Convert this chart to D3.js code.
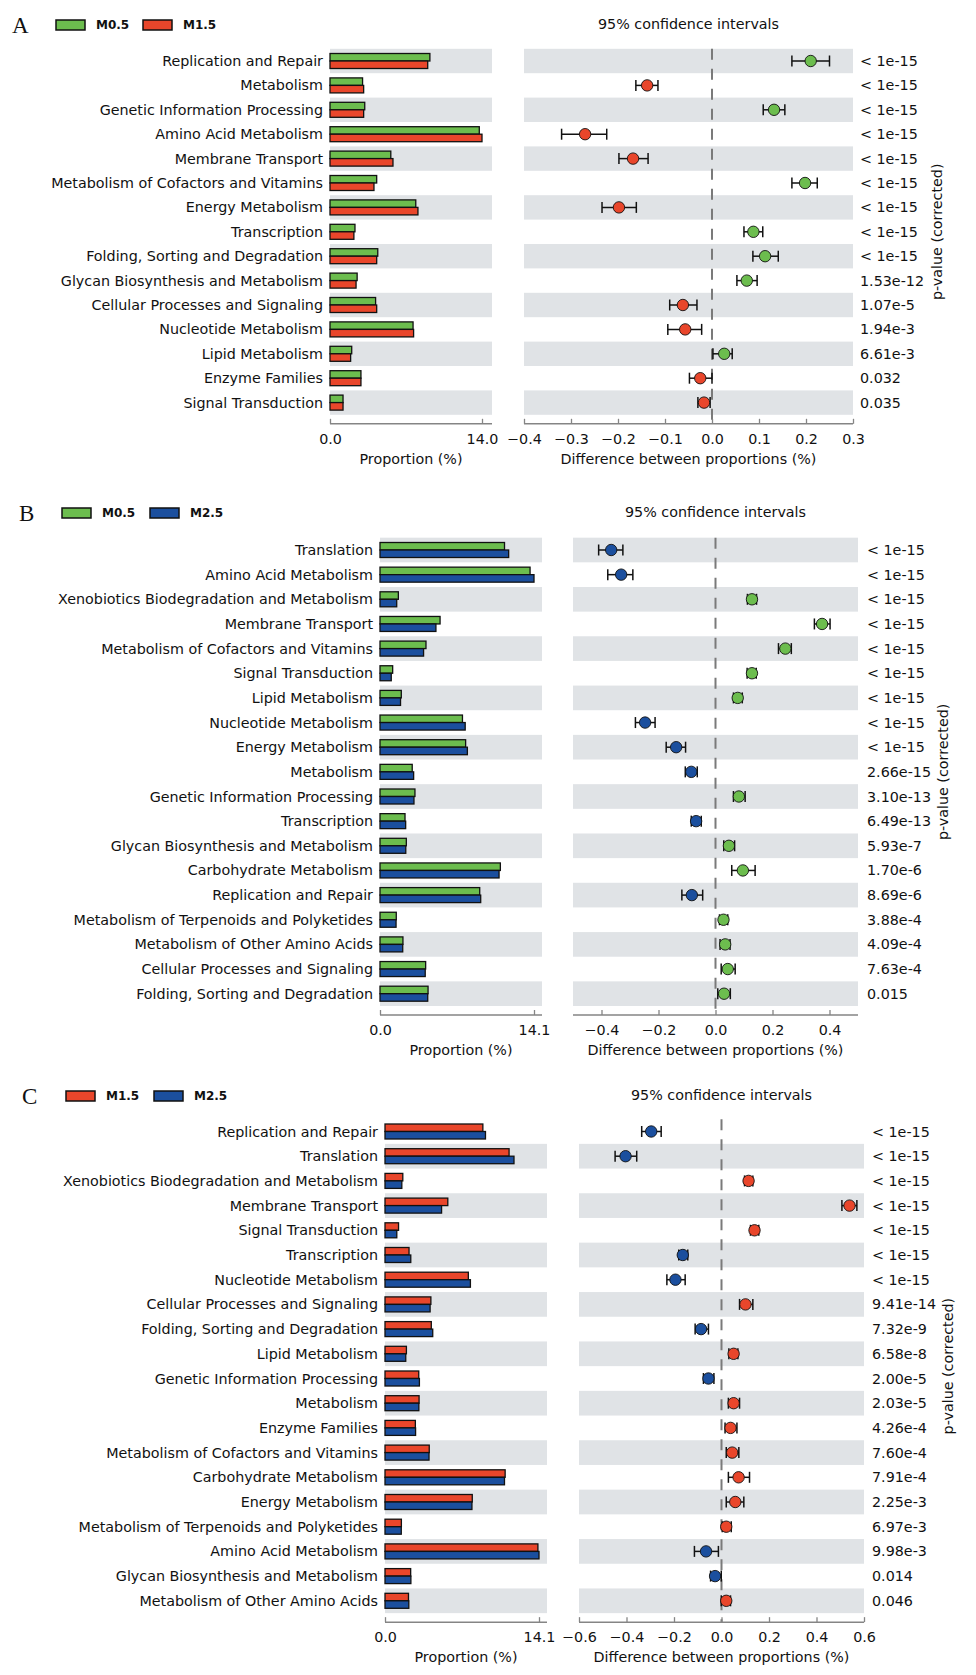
<!DOCTYPE html>
<html>
<head>
<meta charset="utf-8">
<script src="https://cdn.jsdelivr.net/npm/d3@7"></script>
<style>
  body { margin: 0; background: #fff; }
  text { font-family: "DejaVu Sans", sans-serif; fill: #111; }
</style>
</head>
<body>
<svg id="chart" width="976" height="1675"></svg>
<script>
// ---- data ----

// Panel A: M0.5 vs M1.5
var groupsA = ["M0.5", "M1.5"];
var catsA = ["Replication and Repair", "Metabolism", "Genetic Information Processing", "Amino Acid Metabolism",
    "Membrane Transport", "Metabolism of Cofactors and Vitamins", "Energy Metabolism", "Transcription",
    "Folding, Sorting and Degradation", "Glycan Biosynthesis and Metabolism", "Cellular Processes and Signaling",
    "Nucleotide Metabolism", "Lipid Metabolism", "Enzyme Families", "Signal Transduction"];
var propA1 = [9.2, 3.0, 3.2, 13.75, 5.6, 4.3, 7.9, 2.3, 4.4, 2.5, 4.2, 7.65, 2.0, 2.85, 1.2];
var propA2 = [9.0, 3.1, 3.1, 14.0, 5.8, 4.05, 8.1, 2.2, 4.3, 2.4, 4.3, 7.7, 1.9, 2.85, 1.2];
var diffA = [0.21, -0.138, 0.132, -0.27, -0.168, 0.198, -0.198, 0.088, 0.113, 0.074, -0.062, -0.057, 0.026, -0.025, -0.017];
var lowA = [0.17, -0.162, 0.109, -0.32, -0.198, 0.17, -0.234, 0.068, 0.087, 0.053, -0.09, -0.094, 0.002, -0.048, -0.03];
var highA = [0.25, -0.115, 0.155, -0.224, -0.136, 0.224, -0.161, 0.108, 0.141, 0.096, -0.032, -0.022, 0.043, 0.0, -0.004];
var pvalA = ["< 1e-15", "< 1e-15", "< 1e-15", "< 1e-15", "< 1e-15", "< 1e-15", "< 1e-15", "< 1e-15", "< 1e-15",
    "1.53e-12", "1.07e-5", "1.94e-3", "6.61e-3", "0.032", "0.035"];
var barTicksA = [0, 14.0];
var ciTicksA = [-0.4, -0.3, -0.2, -0.1, 0, 0.1, 0.2, 0.3];

// Panel B: M0.5 vs M2.5
var groupsB = ["M0.5", "M2.5"];
var catsB = ["Translation", "Amino Acid Metabolism", "Xenobiotics Biodegradation and Metabolism", "Membrane Transport",
    "Metabolism of Cofactors and Vitamins", "Signal Transduction", "Lipid Metabolism", "Nucleotide Metabolism",
    "Energy Metabolism", "Metabolism", "Genetic Information Processing", "Transcription",
    "Glycan Biosynthesis and Metabolism", "Carbohydrate Metabolism", "Replication and Repair",
    "Metabolism of Terpenoids and Polyketides", "Metabolism of Other Amino Acids", "Cellular Processes and Signaling",
    "Folding, Sorting and Degradation"];
var propB1 = [11.4, 13.74, 1.68, 5.5, 4.21, 1.16, 1.95, 7.55, 7.84, 2.95, 3.2, 2.29, 2.41, 11.02, 9.13, 1.49, 2.1, 4.18, 4.4];
var propB2 = [11.78, 14.1, 1.53, 5.12, 3.99, 1.03, 1.88, 7.8, 8.0, 3.08, 3.11, 2.35, 2.36, 10.9, 9.22, 1.47, 2.08, 4.14, 4.37];
var diffB = [-0.366, -0.331, 0.128, 0.374, 0.245, 0.128, 0.078, -0.247, -0.138, -0.085, 0.082, -0.068, 0.047, 0.096, -0.083, 0.028, 0.034, 0.043, 0.03];
var lowB = [-0.41, -0.378, 0.112, 0.347, 0.221, 0.111, 0.063, -0.281, -0.173, -0.106, 0.063, -0.085, 0.029, 0.057, -0.118, 0.014, 0.016, 0.02, 0.008];
var highB = [-0.325, -0.29, 0.144, 0.402, 0.266, 0.143, 0.094, -0.212, -0.105, -0.064, 0.104, -0.05, 0.067, 0.139, -0.045, 0.043, 0.051, 0.069, 0.052];
var pvalB = ["< 1e-15", "< 1e-15", "< 1e-15", "< 1e-15", "< 1e-15", "< 1e-15", "< 1e-15", "< 1e-15", "< 1e-15",
    "2.66e-15", "3.10e-13", "6.49e-13", "5.93e-7", "1.70e-6", "8.69e-6", "3.88e-4", "4.09e-4", "7.63e-4", "0.015"];
var barTicksB = [0, 14.1];
var ciTicksB = [-0.4, -0.2, 0, 0.2, 0.4];

// Panel C: M1.5 vs M2.5
var groupsC = ["M1.5", "M2.5"];
var catsC = ["Replication and Repair", "Translation", "Xenobiotics Biodegradation and Metabolism", "Membrane Transport",
    "Signal Transduction", "Transcription", "Nucleotide Metabolism", "Cellular Processes and Signaling",
    "Folding, Sorting and Degradation", "Lipid Metabolism", "Genetic Information Processing", "Metabolism",
    "Enzyme Families", "Metabolism of Cofactors and Vitamins", "Carbohydrate Metabolism", "Energy Metabolism",
    "Metabolism of Terpenoids and Polyketides", "Amino Acid Metabolism", "Glycan Biosynthesis and Metabolism",
    "Metabolism of Other Amino Acids"];
var propC1 = [8.96, 11.36, 1.63, 5.75, 1.24, 2.2, 7.63, 4.2, 4.24, 1.96, 3.09, 3.12, 2.78, 4.05, 11.0, 7.99, 1.5, 14.0, 2.35, 2.15];
var propC2 = [9.2, 11.81, 1.54, 5.18, 1.08, 2.36, 7.82, 4.13, 4.37, 1.9, 3.15, 3.1, 2.8, 4.03, 10.94, 7.96, 1.49, 14.1, 2.37, 2.18];
var diffC = [-0.296, -0.404, 0.114, 0.539, 0.139, -0.163, -0.194, 0.101, -0.086, 0.051, -0.055, 0.051, 0.038, 0.045, 0.072, 0.058, 0.02, -0.065, -0.027, 0.02];
var lowC = [-0.336, -0.448, 0.097, 0.507, 0.122, -0.18, -0.23, 0.076, -0.111, 0.031, -0.076, 0.029, 0.015, 0.02, 0.029, 0.02, 0.003, -0.114, -0.046, -0.001];
var highC = [-0.254, -0.357, 0.132, 0.57, 0.157, -0.142, -0.153, 0.132, -0.055, 0.069, -0.032, 0.076, 0.065, 0.073, 0.118, 0.094, 0.041, -0.013, -0.001, 0.038];
var pvalC = ["< 1e-15", "< 1e-15", "< 1e-15", "< 1e-15", "< 1e-15", "< 1e-15", "< 1e-15",
    "9.41e-14", "7.32e-9", "6.58e-8", "2.00e-5", "2.03e-5", "4.26e-4", "7.60e-4", "7.91e-4", "2.25e-3",
    "6.97e-3", "9.98e-3", "0.014", "0.046"];
var barTicksC = [0, 14.1];
var ciTicksC = [-0.6, -0.4, -0.2, 0, 0.2, 0.4, 0.6];

// ---- styling / layout ----
var groupColor = {"M0.5": "#6cbd4e", "M1.5": "#e9462b", "M2.5": "#1b4f9e"};
var bandFill = "#e0e3e6";
var axisColor = "#858585";
var fontSize = "14.3px";

var svg = d3.select("#chart");

function drawPanel(L, groups, cats, v1, v2, diff, lo, hi, pv, barTicks, ciTicks) {
    var n = cats.length,
        g = svg.append("g"),
        c1 = groupColor[groups[0]],
        c2 = groupColor[groups[1]];

    var y = d3.scaleBand().domain(d3.range(n))
        .range([L.rowY0 - L.step / 2, L.rowY0 + (n - 0.5) * L.step]);
    var xBar = d3.scaleLinear().domain([0, barTicks[1]]).range([L.barX0, L.barX1]);
    var xCi = d3.scaleLinear().domain(L.ciDomain).range([L.ciX0, L.ciX1]);
    var yc = function (i) { return y(i) + y.bandwidth() / 2; };
    var axisY = y.range()[1] + 9;

    // panel letter and legend
    g.append("text").attr("x", L.letterX).attr("y", L.topY).attr("dy", "0.35em")
        .style("font-family", "'Liberation Serif', serif").style("font-size", "23px").text(L.letter);
    groups.forEach(function (name, k) {
        g.append("rect").attr("x", L.legendX[k]).attr("y", L.topY - 5).attr("width", 29).attr("height", 10)
            .attr("fill", groupColor[name]).attr("stroke", "#111").attr("stroke-width", 1.5);
        g.append("text").attr("x", L.legendX[k] + 40).attr("y", L.topY).attr("dy", "0.35em")
            .style("font-size", "12px").style("font-weight", "bold").text(name);
    });
    g.append("text").attr("x", (L.ciX0 + L.ciX1) / 2).attr("y", L.topY - 1).attr("dy", "0.35em")
        .attr("text-anchor", "middle").style("font-size", fontSize).text("95% confidence intervals");

    // alternating row bands (bottom row shaded)
    var shaded = d3.range(n).filter(function (i) { return (n - 1 - i) % 2 === 0; });
    g.selectAll(".bandL").data(shaded).join("rect")
        .attr("x", L.barX0).attr("width", L.barEnd - L.barX0)
        .attr("y", function (i) { return y(i); }).attr("height", y.bandwidth()).attr("fill", bandFill);
    g.selectAll(".bandR").data(shaded).join("rect")
        .attr("x", L.ciX0).attr("width", L.ciX1 - L.ciX0)
        .attr("y", function (i) { return y(i); }).attr("height", y.bandwidth()).attr("fill", bandFill);

    // category labels
    g.selectAll(".cat").data(cats).join("text")
        .attr("x", L.barX0 - 7).attr("y", function (d, i) { return yc(i); }).attr("dy", "0.35em")
        .attr("text-anchor", "end").style("font-size", fontSize).text(function (d) { return d; });

    // paired bars
    var bh = 7.5;
    g.selectAll(".bar1").data(v1).join("rect")
        .attr("x", xBar(0)).attr("y", function (d, i) { return yc(i) - bh; })
        .attr("width", function (d) { return xBar(d) - xBar(0); }).attr("height", bh)
        .attr("fill", c1).attr("stroke", "#111").attr("stroke-width", 1.3);
    g.selectAll(".bar2").data(v2).join("rect")
        .attr("x", xBar(0)).attr("y", function (d, i) { return yc(i); })
        .attr("width", function (d) { return xBar(d) - xBar(0); }).attr("height", bh)
        .attr("fill", c2).attr("stroke", "#111").attr("stroke-width", 1.3);

    // zero line
    g.append("line").attr("x1", xCi(0)).attr("x2", xCi(0))
        .attr("y1", y.range()[0]).attr("y2", axisY)
        .attr("stroke", "#7a7a7a").attr("stroke-width", 2).attr("stroke-dasharray", "11,9");

    // confidence intervals
    var ci = g.selectAll(".ci").data(diff).join("g");
    ci.append("line").attr("x1", function (d, i) { return xCi(lo[i]); }).attr("x2", function (d, i) { return xCi(hi[i]); })
        .attr("y1", function (d, i) { return yc(i); }).attr("y2", function (d, i) { return yc(i); })
        .attr("stroke", "#111").attr("stroke-width", 1.5);
    ci.append("line").attr("x1", function (d, i) { return xCi(lo[i]); }).attr("x2", function (d, i) { return xCi(lo[i]); })
        .attr("y1", function (d, i) { return yc(i) - 5.5; }).attr("y2", function (d, i) { return yc(i) + 5.5; })
        .attr("stroke", "#111").attr("stroke-width", 1.5);
    ci.append("line").attr("x1", function (d, i) { return xCi(hi[i]); }).attr("x2", function (d, i) { return xCi(hi[i]); })
        .attr("y1", function (d, i) { return yc(i) - 5.5; }).attr("y2", function (d, i) { return yc(i) + 5.5; })
        .attr("stroke", "#111").attr("stroke-width", 1.5);
    ci.append("circle").attr("cx", function (d) { return xCi(d); }).attr("cy", function (d, i) { return yc(i); })
        .attr("r", 5.7).attr("fill", function (d) { return d >= 0 ? c1 : c2; })
        .attr("stroke", "#111").attr("stroke-width", 0.9);

    // p-values
    g.selectAll(".pv").data(pv).join("text")
        .attr("x", L.pX).attr("y", function (d, i) { return yc(i); }).attr("dy", "0.35em")
        .style("font-size", fontSize).text(function (d) { return d; });
    var midY = (y.range()[0] + y.range()[1]) / 2;
    g.append("text").attr("transform", "translate(" + L.pLabX + "," + midY + ") rotate(-90)")
        .attr("text-anchor", "middle").attr("dy", "0.35em").style("font-size", fontSize)
        .text("p-value (corrected)");

    // axes
    var fmt = d3.format(".1f");
    var ax1 = g.append("g").attr("transform", "translate(0," + axisY + ")")
        .call(d3.axisBottom(xBar).tickValues(barTicks).tickFormat(fmt).tickSizeInner(-5).tickSizeOuter(0).tickPadding(10));
    ax1.select(".domain").remove();
    ax1.append("line").attr("x1", L.barX0).attr("x2", L.barEnd).attr("stroke", axisColor).attr("stroke-width", 1.5);
    var ax2 = g.append("g").attr("transform", "translate(0," + axisY + ")")
        .call(d3.axisBottom(xCi).tickValues(ciTicks).tickFormat(fmt).tickSizeInner(-5).tickSizeOuter(0).tickPadding(10));
    ax2.select(".domain").remove();
    ax2.append("line").attr("x1", L.ciX0).attr("x2", L.ciX1).attr("stroke", axisColor).attr("stroke-width", 1.5);
    [ax1, ax2].forEach(function (a) {
        a.selectAll(".tick line").attr("stroke", axisColor).attr("stroke-width", 1.3);
        a.selectAll(".tick text").style("font-size", fontSize).style("font-family", "'DejaVu Sans', sans-serif").attr("fill", "#111");
    });
    g.append("text").attr("x", (L.barX0 + L.barEnd) / 2).attr("y", axisY + 35).attr("dy", "0.35em")
        .attr("text-anchor", "middle").style("font-size", fontSize).text("Proportion (%)");
    g.append("text").attr("x", (L.ciX0 + L.ciX1) / 2).attr("y", axisY + 35).attr("dy", "0.35em")
        .attr("text-anchor", "middle").style("font-size", fontSize).text("Difference between proportions (%)");
}

drawPanel({letter: "A", letterX: 12, topY: 25, legendX: [56, 143], rowY0: 61, step: 24.4,
        barX0: 330, barX1: 482, barEnd: 492, ciX0: 524, ciX1: 853, ciDomain: [-0.4, 0.3], pX: 860, pLabX: 937},
    groupsA, catsA, propA1, propA2, diffA, lowA, highA, pvalA, barTicksA, ciTicksA);

drawPanel({letter: "B", letterX: 19, topY: 513, legendX: [62, 150], rowY0: 550, step: 24.65,
        barX0: 380, barX1: 534, barEnd: 542, ciX0: 573, ciX1: 858, ciDomain: [-0.5, 0.5], pX: 867, pLabX: 943},
    groupsB, catsB, propB1, propB2, diffB, lowB, highB, pvalB, barTicksB, ciTicksB);

drawPanel({letter: "C", letterX: 22, topY: 1096, legendX: [66, 154], rowY0: 1131.5, step: 24.7,
        barX0: 385, barX1: 539, barEnd: 547, ciX0: 579, ciX1: 864, ciDomain: [-0.6, 0.6], pX: 872, pLabX: 948},
    groupsC, catsC, propC1, propC2, diffC, lowC, highC, pvalC, barTicksC, ciTicksC);
</script>
</body>
</html>
